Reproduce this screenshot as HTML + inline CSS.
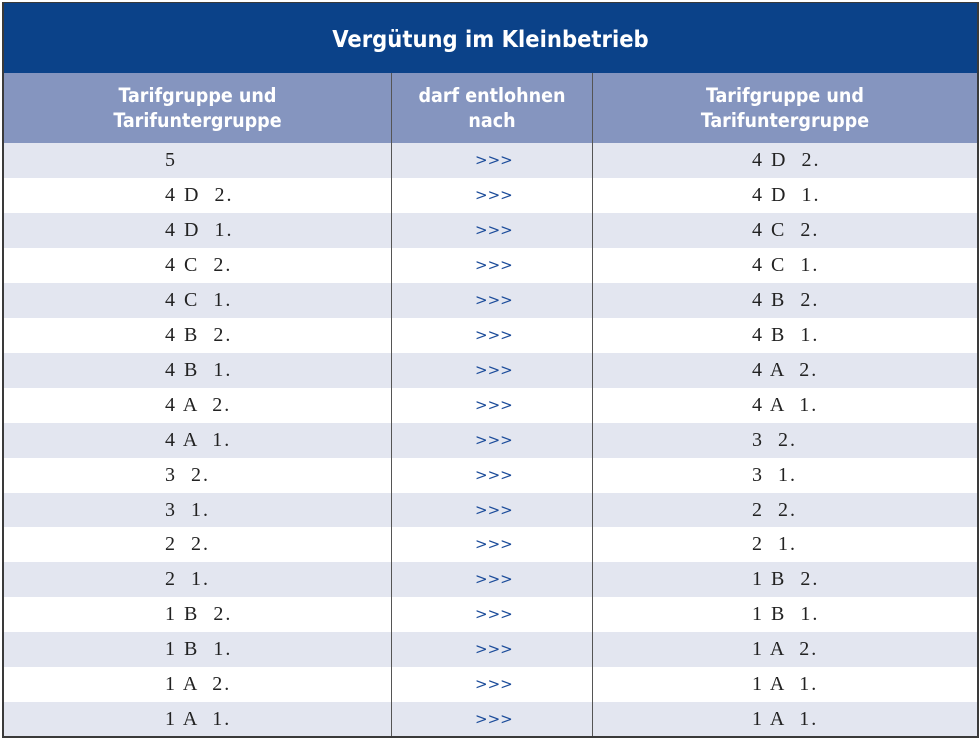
<!DOCTYPE html>
<html><head><meta charset="utf-8"><style>
body{margin:0;background:#fff;width:980px;height:743px;position:relative;overflow:hidden}
.t{position:absolute;left:2px;top:2px;width:973px;height:733px;border:2px solid #3a3a3a;border-top:1px solid #3a3a3a}
.title{position:absolute;left:0;top:0;width:973px;height:70px;background:#0b4289;color:#fff;font:bold 23.5px "DejaVu Sans Condensed","Liberation Sans",sans-serif;text-align:center;line-height:72px}
.hd{position:absolute;top:70px;height:70px;background:#8595bf;color:#fff;font:bold 19.5px "DejaVu Sans Condensed","Liberation Sans",sans-serif;text-align:center;line-height:25px;display:flex;align-items:center;justify-content:center}
.row{position:absolute;left:0;width:973px;height:35px;background:#e3e6f0}
.w{background:#fff}
.c{position:absolute;font:20px "Liberation Serif",serif;color:#222;line-height:35px;white-space:pre;top:0;letter-spacing:2px}
.a{left:161px}.b{left:748px}
.ch{position:absolute;top:0;left:471px;color:#1c4c9a;font:15px "DejaVu Sans",sans-serif;line-height:35px;letter-spacing:0}
.v{position:absolute;top:70px;width:1px;height:663px;background:#555}
</style></head><body>
<div class="t">
<div class="title">Vergütung im Kleinbetrieb</div>
<div class="hd" style="left:0;width:387px">Tarifgruppe und<br>Tarifuntergruppe</div>
<div class="hd" style="left:388px;width:200px">darf entlohnen<br>nach</div>
<div class="hd" style="left:589px;width:384px">Tarifgruppe und<br>Tarifuntergruppe</div>
<div class="row" style="top:140px"><span class="c a">5</span><span class="ch">&gt;&gt;&gt;</span><span class="c b">4 D  2.</span></div>
<div class="row w" style="top:175px"><span class="c a">4 D  2.</span><span class="ch">&gt;&gt;&gt;</span><span class="c b">4 D  1.</span></div>
<div class="row" style="top:210px"><span class="c a">4 D  1.</span><span class="ch">&gt;&gt;&gt;</span><span class="c b">4 C  2.</span></div>
<div class="row w" style="top:245px"><span class="c a">4 C  2.</span><span class="ch">&gt;&gt;&gt;</span><span class="c b">4 C  1.</span></div>
<div class="row" style="top:280px"><span class="c a">4 C  1.</span><span class="ch">&gt;&gt;&gt;</span><span class="c b">4 B  2.</span></div>
<div class="row w" style="top:315px"><span class="c a">4 B  2.</span><span class="ch">&gt;&gt;&gt;</span><span class="c b">4 B  1.</span></div>
<div class="row" style="top:350px"><span class="c a">4 B  1.</span><span class="ch">&gt;&gt;&gt;</span><span class="c b">4 A  2.</span></div>
<div class="row w" style="top:385px"><span class="c a">4 A  2.</span><span class="ch">&gt;&gt;&gt;</span><span class="c b">4 A  1.</span></div>
<div class="row" style="top:420px"><span class="c a">4 A  1.</span><span class="ch">&gt;&gt;&gt;</span><span class="c b">3  2.</span></div>
<div class="row w" style="top:455px"><span class="c a">3  2.</span><span class="ch">&gt;&gt;&gt;</span><span class="c b">3  1.</span></div>
<div class="row" style="top:490px"><span class="c a">3  1.</span><span class="ch">&gt;&gt;&gt;</span><span class="c b">2  2.</span></div>
<div class="row w" style="top:524px"><span class="c a">2  2.</span><span class="ch">&gt;&gt;&gt;</span><span class="c b">2  1.</span></div>
<div class="row" style="top:559px"><span class="c a">2  1.</span><span class="ch">&gt;&gt;&gt;</span><span class="c b">1 B  2.</span></div>
<div class="row w" style="top:594px"><span class="c a">1 B  2.</span><span class="ch">&gt;&gt;&gt;</span><span class="c b">1 B  1.</span></div>
<div class="row" style="top:629px"><span class="c a">1 B  1.</span><span class="ch">&gt;&gt;&gt;</span><span class="c b">1 A  2.</span></div>
<div class="row w" style="top:664px"><span class="c a">1 A  2.</span><span class="ch">&gt;&gt;&gt;</span><span class="c b">1 A  1.</span></div>
<div class="row" style="top:699px;height:34px"><span class="c a">1 A  1.</span><span class="ch">&gt;&gt;&gt;</span><span class="c b">1 A  1.</span></div>
<div class="v" style="left:387px"></div>
<div class="v" style="left:588px"></div>
</div>
</body></html>
